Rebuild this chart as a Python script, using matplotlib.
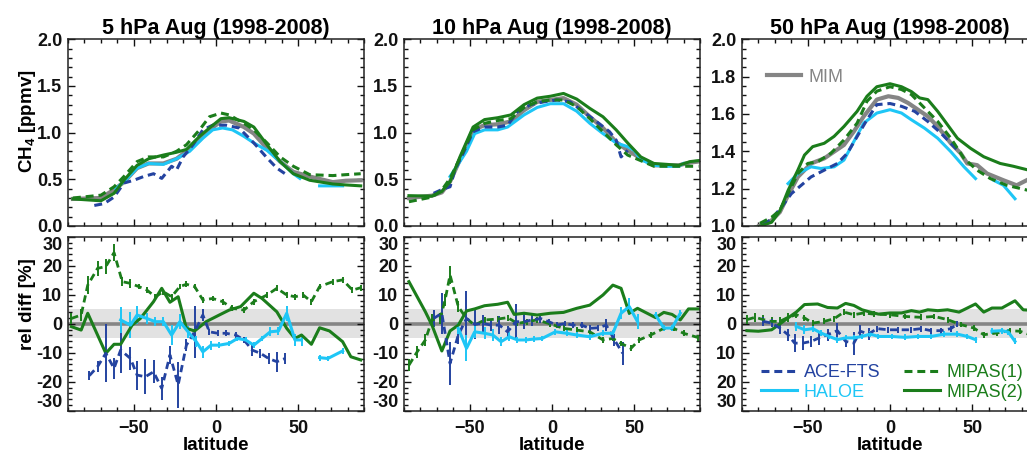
import numpy as np
import matplotlib
matplotlib.use('Agg')
import matplotlib.pyplot as plt
from matplotlib.lines import Line2D
from matplotlib.ticker import MultipleLocator

plt.rcParams['font.family'] = ['Liberation Sans', 'DejaVu Sans']
plt.rcParams['font.weight'] = 'bold'
plt.rcParams['mathtext.fontset'] = 'custom'
plt.rcParams['mathtext.rm'] = 'Liberation Sans:bold'
plt.rcParams['mathtext.default'] = 'rm'

nan = np.nan

# ---------------- data ----------------
titles = ['5 hPa Aug (1998-2008)', '10 hPa Aug (1998-2008)', '50 hPa Aug (1998-2008)']

# 5 hPa, CH4 [ppmv]
lat_p1 = [-87, -70, -62, -56, -48, -41, -32, -24, -18, -10, -4, 3, 8, 17, 23, 31, 39, 47, 57, 71, 79, 88]
mim_p1 = [0.29, 0.30, 0.39, 0.47, 0.62, 0.67, 0.67, 0.72, 0.80, 0.92, 1.03, 1.12, 1.13, 1.06, 0.99, 0.83, 0.69, 0.58, 0.53, 0.47, 0.485, 0.49]
mip1_p1 = [0.30, 0.33, 0.42, 0.53, 0.69, 0.74, 0.74, 0.80, 0.87, 1.03, 1.17, 1.21, 1.19, 1.10, 1.03, 0.89, 0.74, 0.64, 0.55, 0.54, 0.55, 0.56]
mip2_p1 = [0.29, 0.27, 0.35, 0.49, 0.65, 0.72, 0.76, 0.79, 0.82, 0.96, 1.05, 1.15, 1.16, 1.12, 1.06, 0.87, 0.69, 0.56, 0.49, 0.45, 0.44, 0.43]
lat_hal_p1 = [-61, -55, -48, -41, -32, -24, -16, -8, -2, 4, 10, 17, 23, 31, 39, 47, 51, 57, 63, 77]
hal_p1 = [0.40, 0.49, 0.62, 0.67, 0.66, 0.72, 0.80, 0.94, 1.03, 1.05, 1.03, 0.96, 0.89, 0.81, 0.69, 0.56, 0.51, nan, 0.43, 0.43]
lat_ace_p1 = [-74, -68, -62, -56, -50, -44, -38, -33, -27, -24, -20, -14, -8, -2, 6, 14, 23, 31, 37, 42]
ace_p1 = [0.22, 0.24, 0.31, 0.46, 0.49, 0.53, 0.56, 0.51, 0.64, 0.60, 0.74, 0.87, 1.03, 1.08, 1.08, 1.05, 0.89, 0.73, 0.62, 0.56]

# 10 hPa, CH4 [ppmv]
lat_p2 = [-87, -73, -67, -62, -56, -48, -41, -33, -25, -17, -9, -1, 7, 15, 23, 31, 39, 46, 54, 62, 70, 77, 84, 89]
mim_p2 = [0.30, 0.325, 0.36, 0.475, 0.71, 1.03, 1.08, 1.09, 1.12, 1.24, 1.33, 1.35, 1.37, 1.30, 1.17, 1.05, 0.90, 0.81, 0.725, 0.65, 0.65, 0.65, 0.68, 0.69]
mip1_p2 = [0.26, 0.31, 0.385, 0.51, 0.725, 1.03, 1.10, 1.13, 1.15, 1.27, 1.33, 1.35, 1.35, 1.28, 1.15, 1.01, 0.87, 0.76, 0.70, 0.64, 0.64, 0.64, 0.64, 0.64]
mip2_p2 = [0.325, 0.32, 0.37, 0.475, 0.74, 1.06, 1.14, 1.16, 1.19, 1.30, 1.37, 1.39, 1.42, 1.36, 1.26, 1.17, 1.03, 0.89, 0.74, 0.67, 0.66, 0.65, 0.69, 0.70]
lat_hal_p2 = [-62, -56, -52, -47, -41, -33, -27, -17, -9, -1, 7, 15, 23, 31, 39, 46, 50, 54, 62, 70, 77, 80]
hal_p2 = [0.53, 0.69, 0.80, 0.99, 1.03, 1.03, 1.06, 1.19, 1.27, 1.31, 1.31, 1.23, 1.10, 0.99, 0.89, 0.85, 0.81, 0.71, 0.65, 0.64, 0.64, 0.67]
lat_ace_p2 = [-72, -67, -62, -59, -54, -48, -41, -33, -27, -21, -13, -5, 3, 11, 19, 27, 35, 39, 42, 46]
ace_p2 = [0.35, 0.39, 0.42, 0.60, 0.78, 1.01, 1.06, 1.06, 1.08, 1.225, 1.30, 1.33, 1.35, 1.33, 1.225, 1.12, 1.01, 0.92, 0.74, 0.81]

# 50 hPa, CH4 [ppmv]
lat_mim_p3 = [-85, -80, -72, -67, -62, -56, -48, -40, -34, -28, -22, -16, -8, -1, 5, 11, 17, 23, 29, 37, 43, 47, 53, 59, 69, 77, 84, 89]
mim_p3 = [0.96, 1.0, 1.03, 1.074, 1.164, 1.263, 1.335, 1.362, 1.398, 1.434, 1.506, 1.587, 1.677, 1.695, 1.686, 1.659, 1.623, 1.587, 1.533, 1.443, 1.389, 1.335, 1.326, 1.281, 1.245, 1.218, 1.249, 1.25]
lat_mip1_p3 = [-85, -80, -72, -67, -62, -56, -50, -44, -36, -28, -20, -14, -8, 0, 7, 13, 21, 29, 37, 45, 53, 61, 71, 84, 89]
mip1_p3 = [0.97, 1.01, 1.047, 1.083, 1.173, 1.281, 1.335, 1.344, 1.389, 1.461, 1.551, 1.668, 1.722, 1.746, 1.731, 1.704, 1.632, 1.56, 1.47, 1.362, 1.299, 1.254, 1.218, 1.191, 1.18]
lat_mip2_p3 = [-85, -80, -72, -67, -62, -56, -52, -47, -40, -34, -28, -20, -14, -8, 0, 7, 13, 18, 23, 29, 35, 41, 49, 57, 67, 75, 84, 89]
mip2_p3 = [0.96, 0.996, 1.02, 1.08, 1.19, 1.30, 1.38, 1.425, 1.443, 1.48, 1.533, 1.614, 1.695, 1.746, 1.762, 1.746, 1.72, 1.686, 1.677, 1.614, 1.542, 1.47, 1.416, 1.371, 1.335, 1.32, 1.30, 1.29]
lat_hal_p3 = [-62, -56, -48, -42, -34, -28, -22, -16, -8, 0, 7, 13, 21, 29, 37, 45, 52, 57, 63, 69, 76]
hal_p3 = [1.227, 1.281, 1.317, 1.308, 1.317, 1.353, 1.452, 1.551, 1.605, 1.623, 1.605, 1.569, 1.524, 1.47, 1.398, 1.317, 1.254, nan, 1.245, 1.218, 1.146]
lat_ace_p3 = [-83, -78, -72, -66, -60, -54, -48, -40, -32, -26, -20, -14, -8, 0, 7, 15, 23, 31, 37, 41]
ace_p3 = [0.96, 1.0, 1.038, 1.10, 1.173, 1.218, 1.263, 1.299, 1.335, 1.389, 1.479, 1.569, 1.65, 1.656, 1.641, 1.614, 1.56, 1.497, 1.443, 1.407]

# 5 hPa, rel diff [%]
rd_lat_mip2_p1 = [-88, -82, -78, -67, -62, -58, -51, -46, -38, -33, -28, -23, -18, -13, -6, 2, 8, 15, 23, 28, 37, 43, 48, 52, 58, 63, 69, 77, 82, 88]
rd_mip2_p1 = [-1.0, -2.2, 3.6, -10.2, -7.1, -7.1, -0.5, 1.8, 7.6, 12.2, 7.4, 9.3, -1.6, -2.5, 0.7, 3.0, 4.7, 5.9, 10.5, 8.7, 4.1, -1.6, -5.1, -3.9, -7.1, -1.4, -2.5, -6.2, -11.4, -12.5]
rd_lat_mip1_p1 = [-88, -82, -78, -72, -67, -62, -57, -52, -47, -42, -37, -32, -27, -22, -18, -13, -8, -2, 4, 10, 17, 23, 31, 37, 43, 48, 53, 58, 63, 71, 77, 83, 88]
rd_mip1_p1 = [1.8, 3.0, 13.3, 19.1, 19.7, 24.5, 14.5, 13.9, 12.8, 11.6, 9.3, 11.0, 9.3, 12.8, 13.6, 12.8, 8.2, 8.7, 7.6, 5.3, 4.7, 7.6, 9.9, 12.2, 9.9, 9.3, 9.9, 7.6, 12.8, 14.5, 15.1, 11.6, 12.4]
rd_err_mip1_p1 = [2, 2, 3, 2.5, 2.5, 3, 1.5, 1.5, 1, 1, 1, 1, 1, 1, 1, 1, 1, 1, 1, 1, 1, 1, 1, 1, 1, 1, 1, 1, 1, 1, 1, 1, 1]
rd_lat_hal_p1 = [-58, -52, -48, -42, -37, -32, -27, -22, -17, -12, -8, -3, 2, 8, 13, 18, 23, 28, 33, 38, 43, 48, 52, 57, 63, 68, 77]
rd_hal_p1 = [1.3, -0.5, 3.0, 1.8, 0.7, 0.7, -3.9, 0.7, -2.8, -6.2, -9.7, -7.4, -7.4, -6.8, -5.1, -5.6, -7.4, -5.1, -2.8, -2.5, 3.6, -5.6, -5.6, nan, -11.7, -12.0, -9.4]
rd_err_hal_p1 = [4.5, 4.5, 3, 2, 1.5, 1.5, 3.5, 2.5, 2, 2, 2, 1.5, 1, 1, 1, 1, 1, 1, 1.5, 1.5, 2.5, 2, 2, 0, 1, 1, 1]
rd_lat_ace_p1 = [-77, -72, -67, -62, -58, -52, -48, -43, -38, -33, -28, -23, -18, -13, -8, -4, 1, 6, 12, 17, 22, 27, 32, 37, 42]
rd_ace_p1 = [-17.9, -14.8, -10.2, -15.4, -9.1, -12.0, -17.7, -18.3, -16.6, -22.3, -10.8, -21.1, -7.4, -2.8, 3.0, -2.8, -3.3, -3.3, -3.9, -5.6, -9.1, -10.2, -12.0, -13.1, -12.0]
rd_err_ace_p1 = [1.5, 2, 10, 3.5, 8, 4, 5, 6, 4, 4, 3, 8, 2, 9, 2, 1, 1, 1, 1, 1, 2, 1.5, 2, 3.5, 2]

# 10 hPa, rel diff [%]
rd_lat_mip2_p2 = [-87, -82, -77, -73, -67, -62, -57, -52, -47, -41, -33, -27, -23, -17, -9, -1, 7, 15, 23, 31, 37, 42, 47, 52, 63, 68, 73, 78, 83, 89]
rd_mip2_p2 = [14.5, 9.3, 4.1, -0.5, -9.4, -2.5, -0.5, 4.4, 5.1, 6.2, 6.7, 7.4, 3.2, 3.6, 3.0, 3.6, 3.9, 5.3, 6.4, 9.9, 13.3, 12.2, 3.6, 5.3, 2.1, 3.9, 3.2, 1.3, 5.1, 5.1]
rd_lat_mip1_p2 = [-87, -82, -77, -73, -68, -65, -62, -57, -52, -47, -41, -33, -27, -21, -15, -9, -1, 7, 15, 23, 31, 37, 42, 48, 53, 60, 68, 74, 80, 89]
rd_mip1_p2 = [-14.3, -9.7, -5.6, 1.3, 1.8, 8.2, 16.8, 5.9, 1.8, -0.5, 1.3, 1.6, 2.1, 0.1, 0.7, 1.3, -0.1, -1.6, -2.2, -2.8, -5.6, -5.1, -6.8, -8.5, -5.6, -3.9, -1.6, -1.6, -3.3, -4.8]
rd_err_mip1_p2 = [2, 2, 2, 2, 2, 2, 3, 2, 1, 1, 1, 1, 1, 1, 1, 1, 1, 1, 1, 1, 1, 1, 1, 1, 1, 1, 1, 1, 1, 1]
rd_lat_hal_p2 = [-57, -52, -47, -41, -36, -31, -26, -21, -16, -11, -6, 2, 9, 15, 23, 31, 37, 42, 47, 52, 57, 63, 68, 73, 78]
rd_hal_p2 = [-1.6, -8.5, -2.8, -3.3, -3.9, -6.2, -4.5, -5.6, -5.6, -5.3, -5.1, -2.8, -3.3, -3.9, -4.5, -3.3, -3.3, 3.6, 5.9, 0.7, nan, 3.0, -1.5, -1.5, 3.6]
rd_err_hal_p2 = [2, 4.5, 2, 2, 2, 1.5, 1.5, 1, 1, 1, 1, 1, 1, 1, 1, 1, 1, 2, 3, 2.5, 0, 1, 1, 1, 1]
rd_lat_ace_p2 = [-72, -67, -62, -57, -52, -47, -42, -37, -32, -27, -22, -17, -12, -7, -2, 3, 8, 13, 18, 23, 28, 33, 38, 43]
rd_ace_p2 = [1.8, 3.6, -13.7, -3.9, 1.8, -0.2, 0.1, -0.5, -0.5, -2.8, 0.7, 0.7, 1.3, 1.8, 0.7, -0.5, 0.1, -0.5, -0.5, -1.6, -1.4, -0.5, -5.6, -10.2]
rd_err_ace_p2 = [3, 7, 7.5, 3, 9.5, 5, 3, 2, 3, 2, 6, 2.5, 2, 1.5, 1, 1, 1, 1, 1, 1, 1, 2, 2, 4]

# 50 hPa, rel diff [%]
rd_lat_mip2_p3 = [-87, -80, -72, -67, -62, -57, -52, -44, -38, -32, -27, -22, -17, -12, -7, 0, 7, 13, 18, 23, 29, 35, 42, 47, 52, 57, 62, 68, 76, 81, 89]
rd_mip2_p3 = [-2.4, -2.6, -2.1, -0.1, 2.0, 4.0, 6.6, 6.8, 5.6, 5.4, 7.0, 6.3, 4.8, 4.0, 3.3, 3.7, 3.7, 4.5, 4.0, 4.8, 4.5, 4.8, 4.0, 5.4, 6.8, 4.0, 5.4, 5.4, 7.9, 4.8, 4.5]
rd_lat_mip1_p3 = [-87, -82, -77, -72, -67, -62, -57, -52, -47, -40, -34, -28, -22, -16, -10, 0, 9, 19, 27, 35, 43, 51, 57, 65, 73, 79, 89]
rd_mip1_p3 = [1.4, 2.2, 1.4, 0.8, 0.8, 2.2, 3.1, 2.0, 0.2, 0.8, 1.7, 4.0, 3.1, 3.7, 3.3, 3.1, 2.5, 2.2, 2.5, 1.4, -0.3, -1.5, -3.8, -3.2, -2.4, -2.6, -4.6]
rd_err_mip1_p3 = [1.5, 1.5, 1.5, 1.5, 1.5, 1.5, 1, 1, 1, 1, 1, 1, 1, 1, 1, 1, 1, 1, 1, 1, 1, 1, 1, 1, 1, 1, 1]
rd_lat_hal_p3 = [-57, -52, -47, -42, -37, -32, -27, -22, -17, -12, -7, 1, 9, 17, 25, 33, 41, 47, 52, 57, 62, 68, 72, 76]
rd_hal_p3 = [-0.9, -2.1, -1.7, -3.2, -4.4, -5.5, -4.9, -4.9, -4.4, -3.6, -4.4, -4.4, -4.7, -4.4, -4.4, -3.6, -3.6, -4.4, -5.5, nan, -2.6, -2.4, -2.9, -6.1]
rd_err_hal_p3 = [1.5, 1.5, 1, 1, 1, 1, 1, 1, 1, 1, 1, 1, 1, 1, 1, 1, 1, 1, 1, 0, 1, 1, 1, 1]
rd_lat_ace_p3 = [-77, -72, -67, -62, -58, -53, -48, -43, -38, -32, -27, -22, -18, -13, -8, -1, 5, 13, 19, 25, 31, 37, 41]
rd_ace_p3 = [0.8, 0.2, -1.5, -3.8, -6.7, -6.7, -6.1, -4.9, -3.8, -2.4, -6.1, -6.7, -2.6, -3.6, -1.7, -2.1, -2.1, -2.1, -1.7, -2.4, -2.4, -1.7, -0.1]
rd_err_ace_p3 = [1.5, 1.5, 2, 2, 3, 2.5, 2, 2.5, 2, 2.5, 2, 4, 2, 2, 1, 1, 1, 1, 1, 1, 1, 1, 1]

# ---------------- style ----------------
c_ace = '#2443a0'
c_hal = '#1ec6f6'
c_mip = '#1b7d1b'
c_mim = '#858585'
c_band = '#e2e2e2'
dash = (0, (2.6, 1.6))

W, H = 1027, 453
fig = plt.figure(figsize=(W / 100, H / 100), dpi=100)

lefts = [68, 404, 742]
pw = 296
top_y0, top_y1 = 39.3, 226.0
bot_y0, bot_y1 = 236.7, 410.7


def px_axes(x0, y0, y1):
    return fig.add_axes([x0 / W, (H - y1) / H, pw / W, (y1 - y0) / H])


def style_axis(ax, ymaj, ymin):
    ax.set_xlim(-90, 90)
    ax.xaxis.set_major_locator(MultipleLocator(50))
    ax.xaxis.set_minor_locator(MultipleLocator(10))
    ax.yaxis.set_major_locator(MultipleLocator(ymaj))
    ax.yaxis.set_minor_locator(MultipleLocator(ymin))
    ax.tick_params(which='both', direction='in', top=True, right=True,
                   labelsize=13, width=1.0, colors='#111111')
    ax.tick_params(which='major', length=5, pad=7)
    ax.tick_params(which='minor', length=3)
    ax.tick_params(axis='y', pad=4)
    for s in ax.spines.values():
        s.set_linewidth(1.1)
        s.set_color('#222222')


def end_labels(ax):
    ticks = ax.yaxis.get_major_ticks()
    ticks[0].label1.set_va('bottom')
    ticks[-1].label1.set_va('top')


tops = [
    (lat_p1, mim_p1, lat_p1, mip1_p1, lat_p1, mip2_p1, lat_hal_p1, hal_p1, lat_ace_p1, ace_p1),
    (lat_p2, mim_p2, lat_p2, mip1_p2, lat_p2, mip2_p2, lat_hal_p2, hal_p2, lat_ace_p2, ace_p2),
    (lat_mim_p3, mim_p3, lat_mip1_p3, mip1_p3, lat_mip2_p3, mip2_p3, lat_hal_p3, hal_p3, lat_ace_p3, ace_p3),
]
bots = [
    (rd_lat_ace_p1, rd_ace_p1, rd_err_ace_p1, rd_lat_hal_p1, rd_hal_p1, rd_err_hal_p1,
     rd_lat_mip1_p1, rd_mip1_p1, rd_err_mip1_p1, rd_lat_mip2_p1, rd_mip2_p1),
    (rd_lat_ace_p2, rd_ace_p2, rd_err_ace_p2, rd_lat_hal_p2, rd_hal_p2, rd_err_hal_p2,
     rd_lat_mip1_p2, rd_mip1_p2, rd_err_mip1_p2, rd_lat_mip2_p2, rd_mip2_p2),
    (rd_lat_ace_p3, rd_ace_p3, rd_err_ace_p3, rd_lat_hal_p3, rd_hal_p3, rd_err_hal_p3,
     rd_lat_mip1_p3, rd_mip1_p3, rd_err_mip1_p3, rd_lat_mip2_p3, rd_mip2_p3),
]

for i in range(3):
    # upper panel: CH4 profiles
    ax = px_axes(lefts[i], top_y0, top_y1)
    la_m, v_m, la_1, v_1, la_2, v_2, la_h, v_h, la_a, v_a = tops[i]
    ax.plot(la_m, v_m, color=c_mim, lw=3.0, label='MIM')
    ax.plot(la_h, v_h, color=c_hal, lw=2.2)
    ax.plot(la_a, v_a, color=c_ace, lw=2.2, ls=dash)
    ax.plot(la_1, v_1, color=c_mip, lw=2.2, ls=dash)
    ax.plot(la_2, v_2, color=c_mip, lw=2.2)
    if i < 2:
        ax.set_ylim(0, 2.0)
        style_axis(ax, 0.5, 0.1)
    else:
        ax.set_ylim(1.0, 2.0)
        style_axis(ax, 0.2, 0.05)
        leg = ax.legend(handles=[Line2D([], [], color=c_mim, lw=3.0)], labels=['MIM'],
                        loc='upper left', bbox_to_anchor=(0.03, 0.93), frameon=False,
                        handlelength=1.9, handletextpad=0.4, prop={'size': 13, 'weight': 'normal'})
        for t in leg.get_texts():
            t.set_color(c_mim)
    ax.yaxis.set_major_formatter(plt.FormatStrFormatter('%.1f'))
    ax.set_xticklabels([])
    end_labels(ax)
    ax.set_title(titles[i], fontsize=15.5, fontweight='bold', pad=4)

    # lower panel: relative differences
    bx = px_axes(lefts[i], bot_y0, bot_y1)
    la_a, v_a, e_a, la_h, v_h, e_h, la_1, v_1, e_1, la_2, v_2 = bots[i]
    bx.axhspan(-5, 5, color=c_band, lw=0, zorder=0)
    bx.axhline(0, color=c_mim, lw=2.6, zorder=1)
    bx.errorbar(la_1, v_1, yerr=e_1, color=c_mip, lw=2.0, ls=dash, elinewidth=1.4, capsize=0)
    bx.errorbar(la_a, v_a, yerr=e_a, color=c_ace, lw=2.0, ls=dash, elinewidth=1.4, capsize=0)
    bx.errorbar(la_h, v_h, yerr=e_h, color=c_hal, lw=2.2, elinewidth=1.4, capsize=0)
    bx.plot(la_2, v_2, color=c_mip, lw=2.2)
    bx.set_ylim(-30, 30)
    style_axis(bx, 10, 2)
    bx.set_yticks([-30, -20, -10, 0, 10, 20, 30])
    if i < 2:
        bx.set_yticklabels(['-30', '-20', '-10', '0', '10', '20', '30'])
    else:
        bx.set_yticklabels(['30', '20', '10', '0', '10', '20', '30'])
        handles = [Line2D([], [], color=c_ace, lw=2.2, ls=dash),
                   Line2D([], [], color=c_hal, lw=2.2),
                   Line2D([], [], color=c_mip, lw=2.2, ls=dash),
                   Line2D([], [], color=c_mip, lw=2.2)]
        labels = ['ACE-FTS', 'HALOE', 'MIPAS(1)', 'MIPAS(2)']
        leg = bx.legend(handles, labels, ncol=2, loc='lower left',
                        bbox_to_anchor=(0.01, -0.035), frameon=False,
                        handlelength=2.0, handletextpad=0.35, columnspacing=1.3,
                        labelspacing=0.15, prop={'size': 13, 'weight': 'normal'})
        for t, c in zip(leg.get_texts(), [c_ace, c_hal, c_mip, c_mip]):
            t.set_color(c)
    end_labels(bx)
    bx.set_xlabel('latitude', fontsize=13.5, fontweight='bold', labelpad=0)

fig.text(28 / W, (H - 121) / H, 'CH$_4$ [ppmv]', rotation=90, ha='center', va='center',
         fontsize=13.5, fontweight='bold')
fig.text(28 / W, (H - 304) / H, 'rel diff [%]', rotation=90, ha='center', va='center',
         fontsize=13.5, fontweight='bold')

fig.savefig('out.png', dpi=100)
